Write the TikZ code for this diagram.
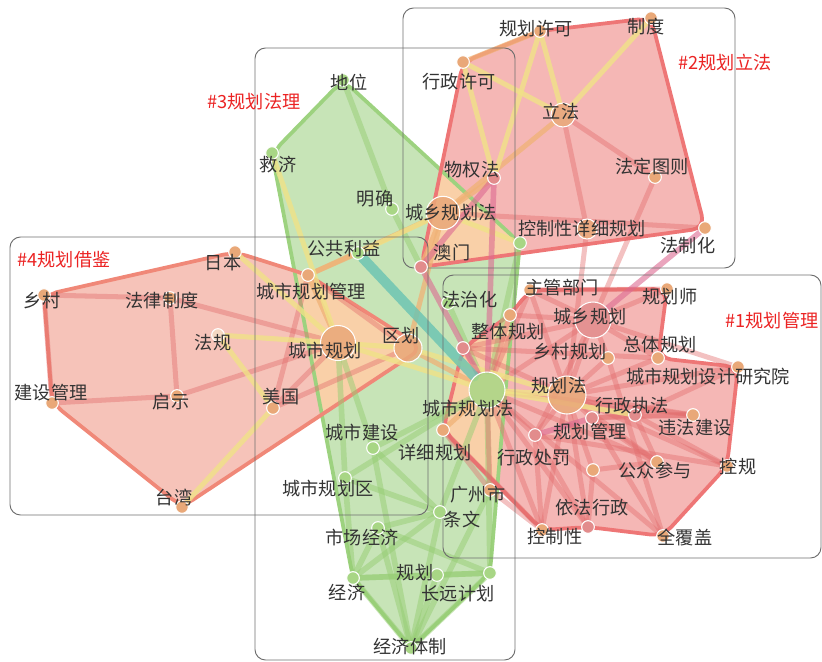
\documentclass[tikz,border=0pt]{standalone}
\usepackage{fontspec}
\newfontfamily\cjk{Noto Sans CJK SC}
\definecolor{hullred}{RGB}{245,183,181}
\definecolor{hullsalmon}{RGB}{246,195,185}
\definecolor{hullgreen}{RGB}{199,228,183}
\definecolor{hullpeach}{RGB}{249,208,168}
\definecolor{linered}{RGB}{238,118,118}
\definecolor{linesalmon}{RGB}{240,136,120}
\definecolor{linegreen}{RGB}{157,210,127}
\definecolor{ndorange}{RGB}{233,168,120}
\definecolor{ndpink}{RGB}{226,140,140}
\definecolor{ndgreen}{RGB}{168,214,133}
\definecolor{edred}{RGB}{226,108,108}
\definecolor{edyellow}{RGB}{240,226,135}
\definecolor{edorange}{RGB}{240,178,118}
\definecolor{edgreen}{RGB}{150,205,115}
\definecolor{edteal}{RGB}{105,195,178}
\definecolor{edmagenta}{RGB}{220,105,145}
\definecolor{ttlred}{RGB}{235,35,35}
\definecolor{boxgray}{RGB}{110,110,110}
\pgfdeclarelayer{hull}
\pgfdeclarelayer{link}
\pgfsetlayers{hull,link,main}

\begin{document}
\begin{tikzpicture}
            [x=0.03cm, y=-0.03cm,
             dot/.style={circle, draw=white, line width=0.9pt, fill=ndorange, inner sep=0pt, minimum size=0.38cm},
             pdot/.style={dot, fill=ndpink},
             gdot/.style={dot, fill=ndgreen},
             wdot/.style={dot, fill=ndorange!45},
             big/.style={fill opacity=.85},
             txt/.style={font=\cjk\fontsize{15.5}{16}\selectfont, text=black!80, inner sep=0pt},
             ttl/.style={txt, text=ttlred},
             box/.style={draw=boxgray, line width=0.8pt, rounded corners=9pt},
             rim/.style={line width=3.2pt, rounded corners=11pt, line join=round},
             redge/.style={draw=edred, line width=4.3pt, draw opacity=.42, line cap=round},
             yedge/.style={draw=edyellow, line width=4.3pt, draw opacity=.8, line cap=round},
             oedge/.style={draw=edorange, line width=4.3pt, draw opacity=.75, line cap=round},
             gedge/.style={draw=edgreen, line width=4.8pt, draw opacity=.5, line cap=round},
             medge/.style={draw=edmagenta, line width=4.8pt, draw opacity=.6, line cap=round},
             tedge/.style={draw=edteal, line width=8.5pt, draw opacity=.8, line cap=round}]
            \useasboundingbox (0,0) rectangle (822,661);

            % group boxes
            \draw[box] (403,8) rectangle (735,268);
            \draw[box] (255,48) rectangle (515,660);
            \draw[box] (10,237) rectangle (428,515);
            \draw[box] (443,275) rectangle (821,558);

            % #2 planning legislation
            \node[dot] (ghxk) at (540,31) {};
            \node[dot] (zhidu) at (651,18) {};
            \node[dot] (xzxk) at (463,62) {};
            \node[dot, big, minimum size=0.72cm] (lifa) at (563,115) {};
            \node[dot] (fdtz) at (655,177) {};
            \node[pdot] (wqf) at (494,178) {};
            \node[dot, big, minimum size=1.0cm] (cxghf) at (443,213) {};
            \node[dot, big, minimum size=0.6cm] (kxgh) at (587,229) {};
            \node[dot] (fzh) at (705,228) {};
            \node[pdot] (aomen) at (421,267) {};
            \node[gdot] (lvd) at (520,243) {};

            % #3 planning jurisprudence
            \node[gdot] (diwei) at (343,80) {};
            \node[gdot] (jiuji) at (272,153) {};
            \node[gdot] (mingque) at (392,209) {};
            \node[gdot] (ggly) at (358,253) {};
            \node[gdot] (csjs) at (373,448) {};
            \node[gdot] (csghq) at (345,478) {};
            \node[gdot] (scjj) at (378,528) {};
            \node[gdot] (jingji) at (353,578) {};
            \node[gdot] (guihua) at (437,575) {};
            \node[gdot] (cyjh) at (490,573) {};
            \node[gdot] (jjtz) at (411,648) {};
            \node[gdot] (tiaowen) at (440,512) {};
            \node[gdot] (fzhua) at (448,303) {};

            % #4 planning reference
            \node[dot] (riben) at (235,252) {};
            \node[dot] (xiangcun) at (44,295) {};
            \node[dot] (flzd) at (170,298) {};
            \node[wdot] (fagui) at (218,335) {};
            \node[dot] (csghgl) at (308,275) {};
            \node[dot, big, minimum size=1.05cm] (csgh) at (338,343) {};
            \node[dot, big, minimum size=0.84cm] (quhua) at (408,348) {};
            \node[dot] (jsgl) at (52,403) {};
            \node[dot] (qishi) at (177,396) {};
            \node[dot] (meiguo) at (273,408) {};
            \node[dot] (taiwan) at (182,507) {};

            % #1 planning management
            \node[dot] (zgbm) at (530,290) {};
            \node[dot] (ztgh) at (510,315) {};
            \node[pdot] (nw) at (463,348) {};
            \node[dot] (ghs) at (667,289) {};
            \node[pdot, big, minimum size=1.08cm] (cxgh) at (593,320) {};
            \node[dot] (zongti) at (658,358) {};
            \node[dot] (xcgh) at (608,358) {};
            \node[dot] (yjy) at (738,367) {};
            \node[dot, big, minimum size=1.14cm] (ghf) at (567,395) {};
            \node[gdot, big, minimum size=1.08cm] (csghf) at (487,390) {};
            \node[pdot] (xzzf) at (635,415) {};
            \node[pdot] (ghgl) at (592,418) {};
            \node[dot] (wfjs) at (693,415) {};
            \node[pdot] (xzcf) at (535,435) {};
            \node[dot] (gzcy) at (657,462) {};
            \node[dot] (kongui) at (727,466) {};
            \node[dot] (nb) at (593,470) {};
            \node[pdot] (yfxz) at (588,527) {};
            \node[dot] (kzx) at (542,530) {};
            \node[dot] (qfg) at (663,536) {};
            \node[dot] (xxgh) at (443,430) {};
            \node[dot] (gzs) at (490,490) {};

            % cluster hulls
            \def\greenrim{(diwei.center) -- (lvd.center) -- (csghf.east) -- (cyjh.center) -- (jjtz.center) -- (jingji.center) -- (jiuji.center) -- cycle}
            \def\legisrim{(xzxk.center) -- (ghxk.center) -- (zhidu.center) -- (fzh.center) -- (aomen.center) -- cycle}
            \def\borrowrim{(xiangcun.center) -- (riben.center) -- (csghgl.center) -- (quhua.east) -- (taiwan.center) -- (jsgl.center) -- cycle}
            \def\managerim{(ztgh.center) -- (zgbm.center) -- (ghs.center) -- (zongti.center) -- (yjy.center) -- (kongui.center) -- (qfg.center) -- (yfxz.center) -- (kzx.center) -- (xxgh.center) -- (nw.center) -- cycle}
            \begin{pgfonlayer}{hull}
                \fill[hullgreen, rim] \greenrim;
                \fill[hullred, rim] \legisrim;
                \fill[hullsalmon, rim] \borrowrim;
                \fill[hullred, rim] \managerim;
                \begin{scope}
                    \clip \greenrim;
                    \fill[hullpeach, rim] \legisrim;
                    \fill[hullpeach, rim] \borrowrim;
                    \fill[hullpeach, rim] \managerim;
                \end{scope}
                \draw[linegreen, rim] \greenrim;
                \draw[linered, rim] \legisrim;
                \draw[linesalmon, rim] \borrowrim;
                \draw[linered, rim] \managerim;
            \end{pgfonlayer}

            % links
            \begin{pgfonlayer}{link}
                \path[gedge] (diwei) edge (mingque) (mingque) edge (aomen) (lvd) edge (csghf)
                    (fzhua) edge (csghf) (csgh) edge (csjs) (csgh) edge (csghq)
                    (csjs) edge (csghf) (csjs) edge (jjtz) (csjs) edge (tiaowen)
                    (csghq) edge (csghf) (csghq) edge (jingji) (csghq) edge (tiaowen)
                    (scjj) edge (tiaowen) (scjj) edge (jingji) (scjj) edge (jjtz) (scjj) edge (cyjh)
                    (jingji) edge (guihua) (jingji) edge (tiaowen) (jingji) edge (jjtz) (jingji) edge (cyjh)
                    (guihua) edge (jjtz) (guihua) edge (cyjh) (cyjh) edge (jjtz)
                    (tiaowen) edge (csghf) (tiaowen) edge (jjtz) (cyjh) edge (csghf) (gzs) edge (jjtz);
                \path[redge] (lifa) edge (fdtz) (lifa) edge (kxgh) (cxghf) edge (fzh)
                    (fdtz) edge (cxgh) (kxgh) edge (ghf)
                    (csghgl) edge (quhua) (csghgl) edge (meiguo)
                    (xiangcun) edge (flzd) (xiangcun) edge (jsgl) (flzd) edge (qishi) (flzd) edge (csgh)
                    (jsgl) edge (qishi) (qishi) edge (csgh) (meiguo) edge (csgh) (meiguo) edge (quhua)
                    (csghf) edge (cxgh) (csghf) edge (zgbm) (csghf) edge (ztgh) (csghf) edge (xzcf)
                    (csghf) edge (kzx) (csghf) edge (yfxz) (csghf) edge (gzcy) (csghf) edge (wfjs)
                    (csghf) edge (qfg) (csghf) edge (gzs) (csghf) edge (nw)
                    (ghf) edge (cxgh) (ghf) edge (zgbm) (ghf) edge (xcgh) (ghf) edge (zongti)
                    (ghf) edge (yjy) (ghf) edge (xzzf) (ghf) edge (ghgl) (ghf) edge (wfjs)
                    (ghf) edge (xzcf) (ghf) edge (gzcy) (ghf) edge (kongui) (ghf) edge (yfxz)
                    (ghf) edge (kzx) (ghf) edge (nb) (ghf) edge (nw)
                    (cxgh) edge (ghs) (cxgh) edge (zgbm) (cxgh) edge (xcgh) (cxgh) edge (zongti)
                    (cxgh) edge (xzcf) (cxgh) edge (ztgh) (cxgh) edge (yjy) (cxgh) edge (nw)
                    (xzzf) edge (wfjs) (xzzf) edge (yjy) (xzzf) edge (gzcy) (xzzf) edge (ghgl) (xzzf) edge (kongui)
                    (ghgl) edge (gzcy) (ghgl) edge (qfg) (ghgl) edge (wfjs)
                    (xzcf) edge (yfxz) (xzcf) edge (kzx) (gzcy) edge (nb) (nb) edge (yfxz)
                    (kzx) edge (gzs) (xxgh) edge (gzs) (xxgh) edge (kzx) (nw) edge (zongti)
                    (kongui) edge (xzcf) (qfg) edge (xcgh) (zgbm) edge (ghs);
                \path[oedge] (xzxk) edge (ghxk) (lifa) edge (cxghf) (wqf) edge (cxghf)
                    (cxghf) edge (aomen) (cxghf) edge (csghgl) (cxghf) edge (quhua)
                    (ggly) edge (csghgl) (csghgl) edge (csgh) (quhua) edge (csghf) (xxgh) edge (csghf);
                \path[yedge] (xzxk) edge (lifa) (xzxk) edge (wqf) (ghxk) edge (wqf) (ghxk) edge (lifa)
                    (zhidu) edge (lifa) (ggly) edge (cxghf) (cxghf) edge (lvd)
                    (jiuji) edge (csgh) (riben) edge (csgh) (fagui) edge (csgh) (fagui) edge (meiguo)
                    (taiwan) edge (meiguo) (csgh) edge (quhua) (csgh) edge (csghf)
                    (quhua) edge (ghf) (csghf) edge (ghf) (csghf) edge (xzzf);
                \path[medge] (wqf) edge (aomen) (wqf) edge (csghf) (fzh) edge (cxgh)
                    (ghgl) edge (xzcf) (aomen) edge (csghf);
                \path[tedge] (ggly) edge (csghf);
            \end{pgfonlayer}

            % labels
            \node[txt] (ghxk-t) at (536,29) {规划许可};
            \node[txt] (zhidu-t) at (646,27) {制度};
            \node[txt] (xzxk-t) at (459,82) {行政许可};
            \node[txt] (lifa-t) at (561,112) {立法};
            \node[txt] (fdtz-t) at (652,167) {法定图则};
            \node[txt] (wqf-t) at (472,170) {物权法};
            \node[txt] (cxghf-t) at (451,213) {城乡规划法};
            \node[txt] (kxgh-t) at (582,229) {控制性详细规划};
            \node[txt] (fzh-t) at (688,246) {法制化};
            \node[txt] (aomen-t) at (452,253) {澳门};
            \node[txt] (diwei-t) at (349,83) {地位};
            \node[txt] (jiuji-t) at (278,165) {救济};
            \node[txt] (mingque-t) at (375,199) {明确};
            \node[txt] (ggly-t) at (344,249) {公共利益};
            \node[txt] (csjs-t) at (362,433) {城市建设};
            \node[txt] (csghq-t) at (328,489) {城市规划区};
            \node[txt] (scjj-t) at (362,538) {市场经济};
            \node[txt] (jingji-t) at (347,592) {经济};
            \node[txt] (guihua-t) at (415,573) {规划};
            \node[txt] (cyjh-t) at (458,594) {长远计划};
            \node[txt] (jjtz-t) at (410,647) {经济体制};
            \node[txt] (tiaowen-t) at (462,520) {条文};
            \node[txt] (fzhua-t) at (470,300) {法治化};
            \node[txt] (riben-t) at (223,263) {日本};
            \node[txt] (xiangcun-t) at (42,301) {乡村};
            \node[txt] (flzd-t) at (162,301) {法律制度};
            \node[txt] (fagui-t) at (213,343) {法规};
            \node[txt] (csghgl-t) at (311,292) {城市规划管理};
            \node[txt] (csgh-t) at (325,351) {城市规划};
            \node[txt] (quhua-t) at (401,336) {区划};
            \node[txt] (jsgl-t) at (51,393) {建设管理};
            \node[txt] (qishi-t) at (171,402) {启示};
            \node[txt] (meiguo-t) at (281,397) {美国};
            \node[txt] (taiwan-t) at (174,497) {台湾};
            \node[txt] (zgbm-t) at (562,288) {主管部门};
            \node[txt] (ghs-t) at (670,297) {规划师};
            \node[txt] (cxgh-t) at (590,317) {城乡规划};
            \node[txt] (ztgh-t) at (508,332) {整体规划};
            \node[txt] (zongti-t) at (660,345) {总体规划};
            \node[txt] (xcgh-t) at (570,352) {乡村规划};
            \node[txt] (yjy-t) at (708,377) {城市规划设计研究院};
            \node[txt] (ghf-t) at (559,386) {规划法};
            \node[txt] (csghf-t) at (468,409) {城市规划法};
            \node[txt] (xzzf-t) at (632,406) {行政执法};
            \node[txt] (ghgl-t) at (590,432) {规划管理};
            \node[txt] (wfjs-t) at (695,428) {违法建设};
            \node[txt] (xzcf-t) at (534,458) {行政处罚};
            \node[txt] (gzcy-t) at (655,471) {公众参与};
            \node[txt] (kongui-t) at (738,467) {控规};
            \node[txt] (gzs-t) at (478,495) {广州市};
            \node[txt] (yfxz-t) at (592,508) {依法行政};
            \node[txt] (kzx-t) at (555,537) {控制性};
            \node[txt] (qfg-t) at (685,537) {全覆盖};
            \node[txt] (xxgh-t) at (435,453) {详细规划};

            % cluster titles
            \node[ttl] (ttl1) at (772,321) {\#1规划管理};
            \node[ttl] (ttl2) at (725,63) {\#2规划立法};
            \node[ttl] (ttl3) at (254,102) {\#3规划法理};
            \node[ttl] (ttl4) at (64,260) {\#4规划借鉴};
        \end{tikzpicture}
\end{document}
